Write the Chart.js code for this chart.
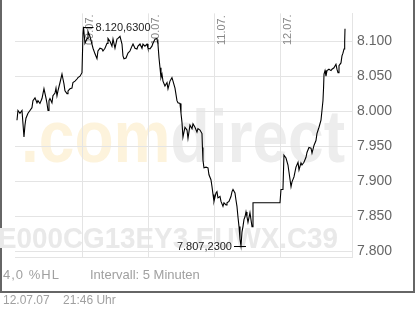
<!DOCTYPE html>
<html lang="de">
<head>
<meta charset="UTF-8">
<script src="https://cdn.jsdelivr.net/npm/chart.js@4.4.0/dist/chart.umd.min.js"></script>
<title>E000CG13EY3.EUWX.C39</title>
<style>
body { margin: 0; background: #fff; font-family: "Liberation Sans", Arial, sans-serif; }
#frame { position: absolute; left: 0; top: 0; width: 411px; height: 291px; border: 2px solid #666; border-top: none; }
#chart { position: absolute; left: 0; top: 0; }
.info { position: absolute; font-size: 13px; color: #a0a0a0; white-space: pre; }
</style>
</head>
<body>
<div id="frame"></div>
<canvas id="chart" width="417" height="312"></canvas>
<div class="info" style="left:3px;top:267px;letter-spacing:1px">4,0 %HL</div>
<div class="info" style="left:90px;top:267px">Intervall: 5 Minuten</div>
<div class="info" style="left:3px;top:293px;font-size:12px">12.07.07    21:46 Uhr</div>

<script>
// x = trading day (0 = 06.07.), y = price
const dayStarts = [1, 2, 3, 4];
const dayLabels = ['09.07.', '10.07.', '11.07.', '12.07.'];
const yTicks = [7800, 7850, 7900, 7950, 8000, 8050, 8100];

const times = [
  0, 0.015, 0.045, 0.076, 0.091, 0.106, 0.121, 0.136, 0.167, 0.197,
  0.227, 0.242, 0.273, 0.303, 0.318, 0.348, 0.379, 0.394, 0.409, 0.439,
  0.455, 0.47, 0.485, 0.5, 0.53, 0.545, 0.576, 0.591, 0.606, 0.621,
  0.652, 0.682, 0.697, 0.712, 0.727, 0.758, 0.773, 0.803, 0.833, 0.848,
  0.879, 0.909, 0.924, 0.955, 0.985,
  1.0, 1.008, 1.03, 1.061, 1.076, 1.106, 1.136, 1.152, 1.182, 1.212,
  1.227, 1.258, 1.288, 1.303, 1.333, 1.364, 1.379, 1.409, 1.439, 1.455,
  1.485, 1.515, 1.53, 1.561, 1.591, 1.606, 1.621, 1.652, 1.682, 1.712,
  1.742, 1.758, 1.788, 1.818, 1.833, 1.864, 1.894, 1.909, 1.939, 1.97,
  1.985,
  2.015, 2.045, 2.061, 2.091, 2.121, 2.136, 2.152, 2.167, 2.182, 2.197,
  2.212, 2.242, 2.273, 2.288, 2.318, 2.348, 2.364, 2.394, 2.424, 2.439,
  2.47, 2.485, 2.5, 2.515, 2.545, 2.576, 2.591, 2.621, 2.652, 2.667,
  2.697, 2.727, 2.742, 2.773, 2.803, 2.81, 2.818, 2.833, 2.864, 2.894,
  2.909, 2.939, 2.955, 2.97, 2.985,
  3.015, 3.03, 3.045, 3.076, 3.091, 3.121, 3.136, 3.167, 3.182, 3.212,
  3.242, 3.258, 3.273, 3.303, 3.318, 3.333, 3.348, 3.364, 3.379, 3.394,
  3.409, 3.424, 3.439, 3.455, 3.47, 3.485, 3.5, 3.53, 3.561, 3.576,
  3.985,
  4.0, 4.03, 4.045, 4.076, 4.106, 4.121, 4.152, 4.167, 4.197, 4.227,
  4.258, 4.273, 4.303, 4.318, 4.348, 4.379, 4.394, 4.424, 4.455, 4.47,
  4.5, 4.53, 4.545, 4.576, 4.606, 4.621, 4.636, 4.645, 4.652, 4.667,
  4.682, 4.697, 4.727, 4.758, 4.773, 4.803, 4.833, 4.848, 4.864, 4.879,
  4.909, 4.924, 4.939, 4.955, 4.965, 4.97, 4.985
];

const prices = [
  7987, 8001, 7997, 8001, 7982, 7963, 7980, 7990, 7997, 8001,
  8005, 8015, 8019, 8012, 8015, 8011, 8018, 8025, 8032, 8019,
  8011, 8001, 8015, 8018, 8012, 8022, 8026, 8033, 8022, 8029,
  8041, 8053, 8046, 8039, 8029, 8025, 8029, 8032, 8033, 8041,
  8043, 8046, 8048, 8050, 8055,
  8111, 8120.63, 8097, 8104, 8114, 8107, 8096, 8090, 8082, 8075,
  8086, 8090, 8089, 8086, 8090, 8097, 8104, 8100, 8093, 8103,
  8090, 8103, 8104, 8107, 8096, 8079, 8075, 8076, 8083, 8086,
  8093, 8096, 8090, 8089, 8093, 8096, 8090, 8096, 8093, 8096,
  8090,
  8089, 8093, 8097, 8103, 8104, 8096, 8076, 8062, 8048, 8053,
  8043, 8036, 8041, 8032, 8043, 8048, 8043, 8033, 8015, 8012,
  8011, 7997, 7984, 7963, 7977, 7973, 7961, 7980, 7975, 7982,
  7977, 7970, 7975, 7973, 7968, 7948, 7930, 7919, 7920, 7919,
  7909, 7902, 7892, 7881, 7871,
  7883, 7885, 7876, 7878, 7871, 7864, 7869, 7866, 7869, 7871,
  7878, 7885, 7888, 7883, 7873, 7864, 7849, 7835, 7817, 7807.23,
  7827, 7835, 7845, 7849, 7856, 7849, 7841, 7855, 7835, 7869,
  7869,
  7888, 7888, 7937, 7933, 7923, 7913, 7892, 7899, 7906, 7920,
  7927, 7916, 7926, 7923, 7927, 7934, 7941, 7948, 7947, 7940,
  7951, 7958, 7968, 7977, 7987, 8001, 8015, 8033, 8053, 8058,
  8050, 8058, 8060, 8058, 8060, 8062, 8067, 8060, 8055, 8065,
  8069, 8079, 8083, 8089, 8100, 8118, 8118
];

const FONT = '"Liberation Sans", Arial, sans-serif';
const fmt4 = v => v.toLocaleString('de-DE', { minimumFractionDigits: 4, maximumFractionDigits: 4 });

function fitText(ctx, parts, x, y, width) {
  const full = parts.map(p => p[0]).join('');
  const sx = width / ctx.measureText(full).width;
  ctx.save();
  ctx.translate(x, y);
  ctx.scale(sx, 1);
  let off = 0;
  parts.forEach(p => {
    ctx.fillStyle = p[1];
    ctx.fillText(p[0], off, 0);
    off += ctx.measureText(p[0]).width;
  });
  ctx.restore();
}

const decor = {
  id: 'decor',
  beforeDraw(chart) {
    const ctx = chart.ctx;
    ctx.save();
    ctx.textBaseline = 'alphabetic';
    ctx.textAlign = 'left';
    ctx.font = 'bold 74px ' + FONT;
    fitText(ctx, [['.com', '#fdf3dc'], ['direct', '#ededed']], 21, 162, 324);
    ctx.font = 'bold 29px ' + FONT;
    fitText(ctx, [['E000CG13EY3.EUWX.C39', '#e9e9e9']], -2, 248, 340);
    ctx.restore();
  },
  beforeDatasetsDraw(chart) {
    const ctx = chart.ctx, xs = chart.scales.x;
    ctx.save();
    ctx.font = '11px ' + FONT;
    ctx.fillStyle = '#888';
    ctx.textAlign = 'left';
    ctx.textBaseline = 'alphabetic';
    dayStarts.forEach((d, i) => {
      ctx.save();
      ctx.translate(xs.getPixelForValue(d) + 10, 45);
      ctx.rotate(-Math.PI / 2);
      ctx.fillText(dayLabels[i], 0, 0);
      ctx.restore();
    });
    ctx.restore();
  },
  afterDatasetsDraw(chart) {
    const ctx = chart.ctx, xs = chart.scales.x, ys = chart.scales.y;
    const hi = prices.indexOf(Math.max(...prices));
    const lo = prices.indexOf(Math.min(...prices));
    ctx.save();
    ctx.strokeStyle = '#000';
    ctx.lineWidth = 1;
    ctx.fillStyle = '#222';
    ctx.font = '11px ' + FONT;
    ctx.textBaseline = 'middle';
    let px = xs.getPixelForValue(times[hi]), py = Math.round(ys.getPixelForValue(prices[hi])) + 0.5;
    ctx.beginPath(); ctx.moveTo(px, py); ctx.lineTo(px + 10, py); ctx.stroke();
    ctx.textAlign = 'left';
    ctx.fillText(fmt4(prices[hi]), px + 12, py);
    px = xs.getPixelForValue(times[lo]); py = Math.round(ys.getPixelForValue(prices[lo])) + 0.5;
    ctx.beginPath(); ctx.moveTo(px - 7, py); ctx.lineTo(px + 5, py); ctx.stroke();
    ctx.textAlign = 'right';
    ctx.fillText(fmt4(prices[lo]), px - 9, py);
    ctx.restore();
  }
};

const ctx = document.getElementById('chart').getContext('2d');
new Chart(ctx, {
  type: 'line',
  data: {
    datasets: [{
      data: times.map((t, i) => ({ x: t, y: prices[i] })),
      borderColor: '#000',
      borderWidth: 1.1,
      pointRadius: 0,
      tension: 0,
      fill: false
    }]
  },
  options: {
    responsive: false,
    animation: false,
    events: [],
    layout: { padding: { left: 15, top: 12, right: 0, bottom: 55 } },
    plugins: { legend: { display: false }, tooltip: { enabled: false } },
    scales: {
      x: {
        type: 'linear', min: -0.03, max: 5.076,
        afterFit: s => { s.height = 0; },
        afterBuildTicks: s => { s.ticks = dayStarts.map(v => ({ value: v })); },
        ticks: { display: false },
        grid: { color: '#e4e4e4', drawTicks: false },
        border: { color: '#e4e4e4' }
      },
      y: {
        position: 'right', min: 7791.5, max: 8139.8,
        afterFit: s => { s.width = 65; },
        afterBuildTicks: s => { s.ticks = yTicks.map(v => ({ value: v })); },
        ticks: {
          padding: 5, color: '#666',
          font: { size: 14, family: FONT },
          callback: v => v.toLocaleString('de-DE')
        },
        grid: { color: '#e4e4e4', drawTicks: false },
        border: { color: '#e4e4e4' }
      }
    }
  },
  plugins: [decor]
});
</script>
</body>
</html>
